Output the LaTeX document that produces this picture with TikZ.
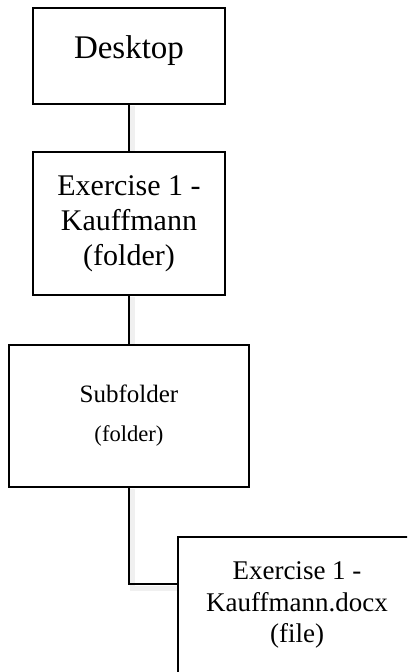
\documentclass[tikz,border=0pt]{standalone}
\usepackage{fontspec}
\setmainfont{Liberation Serif}
\usepackage{xcolor}
\usepackage{tikz}
\usetikzlibrary{calc,positioning}
\definecolor{boxline}{RGB}{0,0,0}
\definecolor{shadowgray}{RGB}{240,240,240}

\begin{document}
\begin{tikzpicture}[x=1pt,y=1pt,
  box/.style={draw=boxline, line width=1.6pt, fill=white, rectangle, align=center, inner sep=0pt},
  link/.style={draw=boxline, line width=2pt},
  linkshadow/.style={draw=shadowgray, line width=5pt}]
\clip (0,0) rectangle (407,-672);
\fill[white] (0,0) rectangle (407,-672);
\draw[linkshadow] (132.5,-106) -- (132.5,-152);
\draw[linkshadow] (132.5,-297) -- (132.5,-345);
\draw[linkshadow] (132.5,-489) -- (132.5,-588) -- (178,-588);
\node[box, minimum width=192, minimum height=96, text depth=18.5pt,
  font=\fontsize{33}{38}\selectfont] (desk) at (129,-56) {Desktop};
\node[box, minimum width=192, minimum height=143,
  font=\fontsize{30}{35}\selectfont] (ex) at (129,-223.5) {Exercise 1 -\\Kauffmann\\(folder)};
\node[box, minimum width=240, minimum height=142,
  font=\fontsize{25}{39}\selectfont] (sub) at (129,-416)
  {Subfolder\\{\fontsize{22.6}{39}\selectfont (folder)}};
\node[box, minimum width=238, minimum height=136,
  font=\fontsize{27}{31.5}\selectfont] (doc) at (297,-605) {Exercise 1 -\\Kauffmann.docx\\(file)};
\draw[link] (desk) -- (ex);
\draw[link] (ex) -- (sub);
\draw[link] (sub.south) |- ([yshift=21pt]doc.west);
\end{tikzpicture}
\end{document}
